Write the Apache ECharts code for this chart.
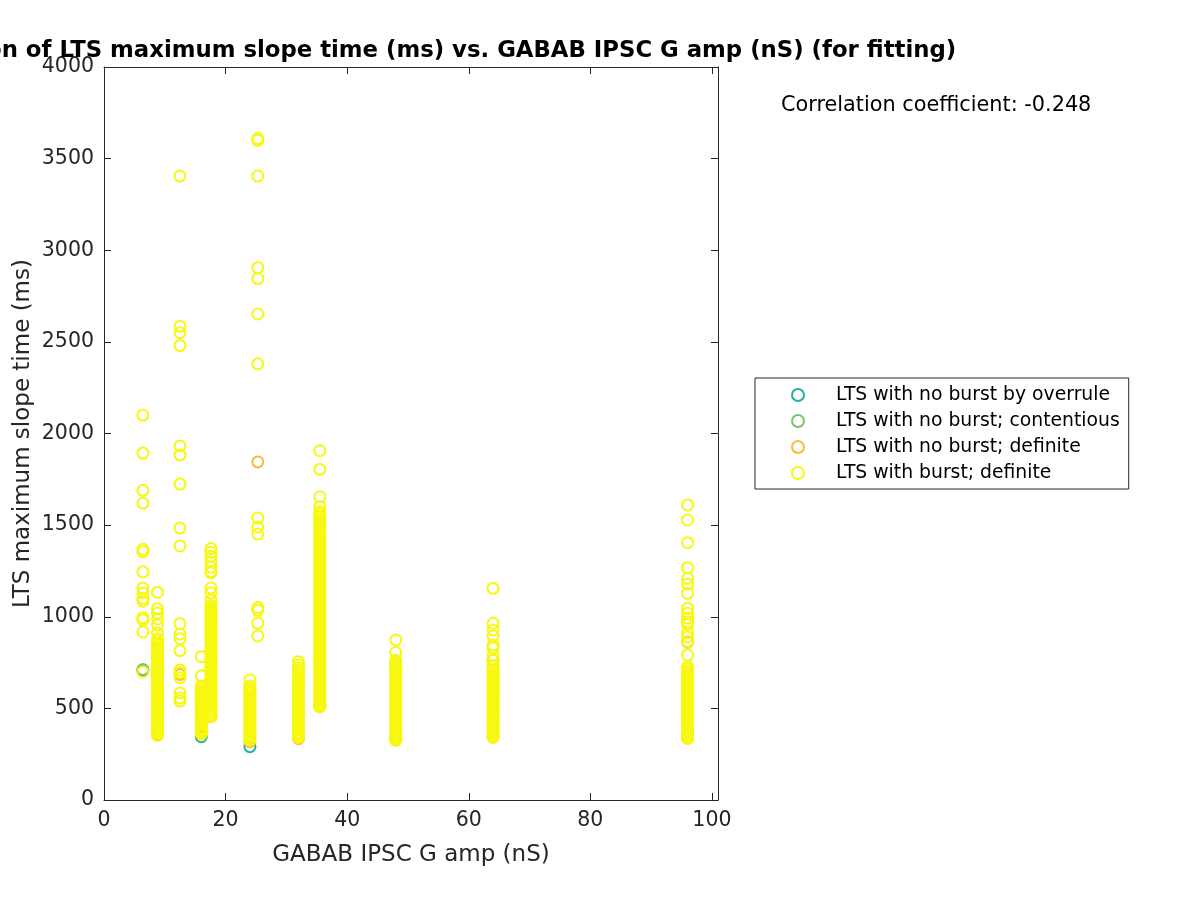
<!DOCTYPE html>
<html>
<head>
<meta charset="utf-8">
<script src="https://cdn.jsdelivr.net/npm/echarts@6/dist/echarts.min.js"></script>
<style>
html,body{margin:0;padding:0;background:#fff;}
#chart{width:1200px;height:900px;}
</style>
</head>
<body>
<div id="chart"></div>
<script>
// GABAB IPSC G amp (nS) columns
const gababAmp = [6.4, 8.8, 12.5, 16, 17.6, 24, 25.3, 32, 35.5, 48, 64, 96];

// LTS maximum slope time (ms), one list per column above
const burstDefinite = [
  [2100, 1893, 1690, 1620, 1368, 1355, 1245, 1157, 1130, 1100, 1085, 995, 982, 917, 700],
  [1133, 1044, 1020, 988, 955, 911, 880, 869, 856, 846, 833, 821, 812, 799, 787, 777, 765, 753, 743, 731, 719, 709, 697, 685, 675, 663, 652, 640, 630, 618, 607, 595, 586, 573, 562, 550, 541, 529, 518, 506, 497, 485, 474, 462, 453, 441, 430, 419, 410, 398, 388, 377, 366, 352],
  [3405, 2585, 2550, 2480, 1932, 1883, 1724, 1484, 1386, 962, 906, 880, 815, 709, 695, 667, 584, 557, 540],
  [782, 678, 622, 611, 598, 588, 576, 565, 555, 544, 534, 523, 513, 502, 492, 481, 471, 460, 451, 440, 430, 419, 409, 398, 389, 379, 369, 360],
  [1372, 1352, 1330, 1300, 1270, 1247, 1240, 1157, 1130, 1092, 1062, 1050, 1040, 1029, 1019, 1007, 998, 986, 976, 965, 955, 943, 934, 922, 912, 901, 891, 879, 870, 858, 848, 837, 827, 815, 806, 794, 784, 773, 763, 751, 742, 730, 720, 709, 699, 687, 678, 666, 656, 645, 635, 623, 614, 602, 592, 581, 571, 559, 550, 538, 528, 517, 507, 495, 486, 474, 464, 455],
  [655, 622, 611, 601, 589, 580, 568, 559, 547, 538, 526, 517, 505, 496, 484, 475, 463, 454, 442, 433, 421, 412, 400, 391, 379, 370, 358, 349, 337, 328],
  [3610, 3600, 3405, 2905, 2845, 2652, 2380, 1539, 1490, 1451, 1050, 1035, 965, 895],
  [755, 737, 720, 709, 690, 672, 660, 648, 637, 625, 615, 603, 593, 582, 572, 560, 550, 539, 529, 517, 508, 496, 486, 475, 465, 453, 444, 433, 423, 412, 402, 391, 382, 370, 361, 350, 342],
  [1906, 1804, 1655, 1600, 1575, 1562, 1550, 1540, 1527, 1515, 1504, 1490, 1479, 1466, 1454, 1443, 1430, 1420, 1407, 1397, 1385, 1375, 1363, 1353, 1341, 1331, 1319, 1309, 1297, 1287, 1275, 1265, 1253, 1243, 1231, 1221, 1209, 1199, 1187, 1177, 1165, 1155, 1143, 1133, 1121, 1111, 1099, 1089, 1077, 1067, 1055, 1045, 1033, 1023, 1011, 1001, 989, 979, 967, 957, 945, 935, 923, 913, 901, 891, 879, 869, 857, 847, 835, 825, 813, 803, 791, 781, 769, 759, 747, 737, 725, 715, 703, 693, 681, 671, 659, 649, 637, 627, 615, 605, 593, 583, 571, 561, 549, 539, 527, 518, 508],
  [873, 805, 762, 750, 740, 728, 718, 706, 696, 684, 674, 662, 652, 640, 630, 618, 608, 596, 586, 574, 564, 552, 542, 530, 520, 508, 498, 486, 476, 464, 454, 442, 432, 420, 410, 398, 388, 376, 366, 354, 344, 334, 326],
  [1155, 964, 928, 895, 846, 830, 791, 764, 731, 715, 703, 693, 681, 671, 659, 649, 637, 627, 615, 605, 593, 583, 571, 561, 549, 539, 527, 517, 505, 495, 483, 473, 461, 451, 439, 429, 417, 407, 395, 385, 373, 363, 351, 341],
  [1610, 1528, 1404, 1268, 1210, 1178, 1128, 1046, 1019, 992, 973, 958, 913, 890, 858, 791, 727, 716, 704, 694, 682, 672, 660, 650, 638, 628, 616, 606, 594, 584, 572, 562, 550, 540, 528, 518, 506, 496, 484, 474, 462, 452, 440, 430, 418, 408, 396, 386, 374, 364, 352, 342, 336]
];
const noBurstDefinite = [
  [], [360], [685], [585, 565, 372], [455], [318], [1845], [335, 600, 580], [512], [328], [345, 764], [862, 340]
];
const noBurstContentious = [
  [712], [], [], [], [], [], [], [595], [], [], [], []
];
const noBurstOverrule = [
  [707], [], [], [345], [], [291], [], [], [], [], [], []
];

const seriesNames = [
  'LTS with no burst by overrule',
  'LTS with no burst; contentious',
  'LTS with no burst; definite',
  'LTS with burst; definite'
];
const seriesColors = ['#22b39c', '#80c06c', '#fbb93a', '#f7f80e'];
const xTicks = [0, 20, 40, 60, 80, 100];
const correlationText = 'Correlation coefficient: -0.248';

function toPoints(cols) {
  const pts = [];
  cols.forEach((ys, i) => ys.forEach(y => pts.push([gababAmp[i], y])));
  return pts;
}
const seriesData = [noBurstOverrule, noBurstContentious, noBurstDefinite, burstDefinite].map(toPoints);

const FONT = 'DejaVu Sans';
const AX = '#262626';

const chart = echarts.init(document.getElementById('chart'), null, {renderer: 'canvas'});

const axisCommonX = {
  type: 'value', min: 0, max: 101,
  splitLine: {show: false},
  axisLine: {show: true, onZero: false, lineStyle: {color: AX, width: 1}},
  axisTick: {show: true, inside: true, length: 7, customValues: xTicks, lineStyle: {color: AX}},
};
const axisCommonY = {
  type: 'value', min: 0, max: 4000, interval: 500,
  splitLine: {show: false},
  axisLine: {show: true, onZero: false, lineStyle: {color: AX, width: 1}},
  axisTick: {show: true, inside: true, length: 7, lineStyle: {color: AX}},
};

chart.setOption({
  animation: false,
  backgroundColor: '#fff',
  title: {
    text: 'Correlation of LTS maximum slope time (ms) vs. GABAB IPSC G amp (nS) (for fitting)',
    left: 410, top: 35,
    textAlign: 'center',
    textStyle: {fontFamily: FONT, fontSize: 22.8, fontWeight: 'bold', color: '#000'}
  },
  grid: {left: 104, top: 67, width: 614, height: 733, containLabel: false, outerBoundsMode: 'none'},
  xAxis: [
    Object.assign({}, axisCommonX, {
      position: 'bottom',
      name: 'GABAB IPSC G amp (nS)', nameLocation: 'middle', nameGap: 44, nameMoveOverlap: false,
      nameTextStyle: {fontFamily: FONT, fontSize: 23, color: AX},
      axisLabel: {show: true, customValues: xTicks, margin: 10, fontFamily: FONT, fontSize: 20.5, color: AX}
    }),
    Object.assign({}, axisCommonX, {position: 'top', axisLabel: {show: false}})
  ],
  yAxis: [
    Object.assign({}, axisCommonY, {
      position: 'left',
      name: 'LTS maximum slope time (ms)', nameLocation: 'middle', nameGap: 69, nameMoveOverlap: false,
      nameTextStyle: {fontFamily: FONT, fontSize: 23, color: AX},
      axisLabel: {show: true, margin: 10, fontFamily: FONT, fontSize: 20.5, color: AX,
                  formatter: v => String(v)}
    }),
    Object.assign({}, axisCommonY, {position: 'right', axisLabel: {show: false}})
  ],
  legend: {
    orient: 'vertical',
    left: 755, top: 378,
    padding: [7, 9, 6, 36],
    itemWidth: 66, itemHeight: 12, itemGap: 6,
    borderColor: AX, borderWidth: 1, borderRadius: 0,
    backgroundColor: '#fff',
    textStyle: {fontFamily: FONT, fontSize: 18.8, color: '#000', lineHeight: 20},
    data: seriesNames.map((n, i) => ({
      name: n, icon: 'circle',
      itemStyle: {color: 'transparent', borderColor: seriesColors[i], borderWidth: 2}
    }))
  },
  graphic: [{
    type: 'text', left: 781, top: 95,
    style: {text: correlationText, fontFamily: FONT, fontSize: 20.8, fill: '#000'}
  }],
  series: seriesNames.map((n, i) => ({
    name: n, type: 'scatter',
    xAxisIndex: 0, yAxisIndex: 0,
    symbol: 'circle', symbolSize: 11,
    itemStyle: {color: 'transparent', borderColor: seriesColors[i], borderWidth: 2, opacity: 1},
    emphasis: {disabled: true},
    data: seriesData[i]
  }))
});
</script>
</body>
</html>
